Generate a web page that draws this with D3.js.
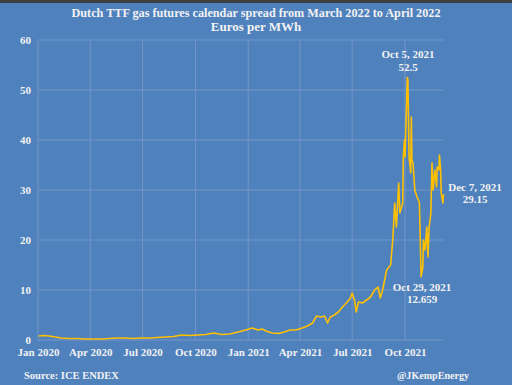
<!DOCTYPE html>
<html><head><meta charset="utf-8">
<script src="https://cdn.jsdelivr.net/npm/d3@7"></script>
<style>html,body{margin:0;padding:0;background:#4f81bd;}svg{display:block;}</style>
</head><body>
<script>
const dates = ["2020-01-02","2020-01-10","2020-01-20","2020-01-31","2020-02-10","2020-02-24","2020-03-09","2020-03-23","2020-04-06","2020-04-20","2020-05-04","2020-05-18","2020-06-01","2020-06-15","2020-06-29","2020-07-13","2020-07-27","2020-08-10","2020-08-24","2020-09-07","2020-09-21","2020-10-05","2020-10-19","2020-11-02","2020-11-16","2020-11-30","2020-12-14","2020-12-28","2021-01-08","2021-01-18","2021-01-25","2021-02-03","2021-02-12","2021-02-22","2021-03-05","2021-03-15","2021-03-25","2021-04-05","2021-04-14","2021-04-23","2021-04-30","2021-05-07","2021-05-14","2021-05-19","2021-05-24","2021-05-31","2021-06-07","2021-06-14","2021-06-21","2021-06-28","2021-07-01","2021-07-05","2021-07-08","2021-07-12","2021-07-19","2021-07-26","2021-08-02","2021-08-09","2021-08-15","2021-08-19","2021-08-23","2021-08-30","2021-09-06","2021-09-10","2021-09-13","2021-09-16","2021-09-20","2021-09-22","2021-09-27","2021-09-28","2021-09-30","2021-10-01","2021-10-05","2021-10-06","2021-10-07","2021-10-08","2021-10-11","2021-10-12","2021-10-13","2021-10-15","2021-10-18","2021-10-22","2021-10-26","2021-10-29","2021-11-01","2021-11-02","2021-11-05","2021-11-08","2021-11-10","2021-11-12","2021-11-15","2021-11-17","2021-11-19","2021-11-22","2021-11-25","2021-11-26","2021-11-29","2021-11-30","2021-12-02","2021-12-03","2021-12-06","2021-12-07"];
const values = [0.8,0.9,0.8,0.6,0.4,0.3,0.3,0.2,0.2,0.2,0.3,0.4,0.4,0.3,0.4,0.4,0.5,0.6,0.7,1.0,0.9,1.0,1.1,1.4,1.1,1.2,1.6,2.0,2.4,2.0,2.2,1.7,1.4,1.3,1.6,2.0,2.0,2.4,2.8,3.4,4.8,4.6,4.8,3.4,4.6,5.0,5.6,6.6,7.4,8.4,9.4,8.0,5.6,7.6,7.4,8.0,8.6,10.0,10.6,8.4,10.0,14.0,15.0,20.6,27.4,22.6,31.4,25.4,27.4,36.6,40.0,36.6,52.5,52.0,44.6,36.6,33.4,44.6,36.0,35.4,30.0,28.6,27.5,12.659,14.6,20.0,18.0,22.6,16.6,22.6,25.4,35.4,30.0,34.0,30.6,34.6,34.0,37.0,34.0,29.4,27.4,29.15];
const yTicks = [0,10,20,30,40,50,60];
const xTickDates = ["2020-01-01","2020-04-01","2020-07-01","2020-10-01","2021-01-01","2021-04-01","2021-07-01","2021-10-01"];
const annotations = [
  {date:"2021-10-05", line1:"Oct 5, 2021", line2:"52.5"},
  {date:"2021-10-29", line1:"Oct 29, 2021", line2:"12.659"},
  {date:"2021-12-07", line1:"Dec 7, 2021", line2:"29.15"}
];

const W=512,H=385;
const parse=d3.timeParse("%Y-%m-%d");
const data=dates.map((d,i)=>({date:parse(d),value:values[i]}));
const svg=d3.select("body").append("svg").attr("width",W).attr("height",H)
  .style("font-family","'Liberation Serif','DejaVu Serif',serif").style("font-weight","bold");
svg.append("rect").attr("width",W).attr("height",H).attr("fill","#4f81bd");
svg.append("rect").attr("width",W).attr("height",3).attr("fill","#3f3f3f");

const x=d3.scaleTime().domain([parse("2020-01-01"),parse("2021-12-07")]).range([38,443.5]);
const y=d3.scaleLinear().domain([0,60]).range([340,40]);
const grid="#7596c6";

svg.append("g").selectAll("line").data(yTicks).join("line")
  .attr("x1",38).attr("x2",443.5).attr("y1",d=>y(d)).attr("y2",d=>y(d))
  .attr("stroke",grid).attr("stroke-width",1);
svg.append("g").selectAll("line").data(xTickDates.map(parse)).join("line")
  .attr("x1",d=>x(d)).attr("x2",d=>x(d)).attr("y1",40).attr("y2",340)
  .attr("stroke",grid).attr("stroke-width",1);

const yAxis=svg.append("g").attr("transform","translate(34,0)")
  .call(d3.axisLeft(y).tickValues(yTicks).tickSize(0).tickPadding(3));
yAxis.select(".domain").remove();
yAxis.selectAll("text").attr("fill","#f2f2f2").style("font-size","11px").style("font-family","'Liberation Serif',serif").style("font-weight","bold");

const xAxis=svg.append("g").attr("transform","translate(0,344)")
  .call(d3.axisBottom(x).tickValues(xTickDates.map(parse)).tickFormat(d3.timeFormat("%b %Y")).tickSize(0).tickPadding(4));
xAxis.select(".domain").remove();
xAxis.selectAll("text").attr("fill","#f2f2f2").style("font-size","11px").style("font-family","'Liberation Serif',serif").style("font-weight","bold");

svg.append("path").datum(data)
  .attr("d",d3.line().x(d=>x(d.date)).y(d=>y(d.value)))
  .attr("fill","none").attr("stroke","#ffc000").attr("stroke-width",1.6).attr("stroke-linejoin","round");

svg.append("text").attr("x",256).attr("y",17).attr("text-anchor","middle")
  .attr("fill","#f2f2f2").style("font-size","13px")
  .attr("textLength",369).attr("lengthAdjust","spacingAndGlyphs")
  .text("Dutch TTF gas futures calendar spread from March 2022 to April 2022");
svg.append("text").attr("x",256).attr("y",31).attr("text-anchor","middle")
  .attr("fill","#f2f2f2").style("font-size","13px").text("Euros per MWh");

const annPos=[{dx:408,y1:58,y2:71},{dx:422,y1:291,y2:303},{dx:475,y1:191,y2:203}];
annotations.forEach((a,i)=>{
  const p=annPos[i];
  const g=svg.append("g").attr("fill","#f2f2f2").style("font-size","11px").attr("text-anchor","middle");
  g.append("text").attr("x",p.dx).attr("y",p.y1).text(a.line1);
  g.append("text").attr("x",p.dx).attr("y",p.y2).text(a.line2);
});

svg.append("text").attr("x",24).attr("y",379).attr("fill","#f2f2f2").style("font-size","10.5px").text("Source: ICE ENDEX");
svg.append("text").attr("x",469).attr("y",379).attr("text-anchor","end").attr("fill","#f2f2f2").style("font-size","10.5px")
  .attr("textLength",72).attr("lengthAdjust","spacingAndGlyphs").text("@JKempEnergy");
</script>
</body></html>
